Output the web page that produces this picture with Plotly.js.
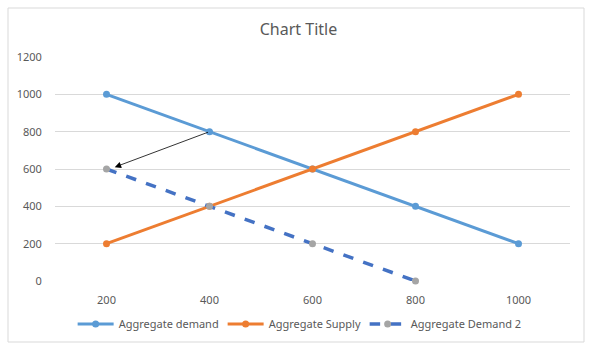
<!DOCTYPE html>
<html>
<head>
<meta charset="utf-8">
<script src="https://cdn.plot.ly/plotly-3.0.1.min.js"></script>
<style>html,body{margin:0;padding:0;background:#fff;}</style>
</head>
<body>
<div id="chart" style="width:597px;height:351px;"></div>
<script>
var categories = ["200", "400", "600", "800", "1000"];
var aggDemand = [1000, 800, 600, 400, 200];
var aggSupply = [200, 400, 600, 800, 1000];
var aggDemand2Cats = ["200", "400", "600", "800"];
var aggDemand2 = [600, 400, 200, 0];
var yTicks = [0, 200, 400, 600, 800, 1000, 1200];

var font = "Noto Sans, Open Sans, sans-serif";
var traces = [
  {x: categories, y: aggDemand, name: "Aggregate demand", type: "scatter", mode: "lines+markers", cliponaxis: false,
   legendwidth: 99,
   line: {color: "#5B9BD5", width: 3}, marker: {color: "#5B9BD5", size: 7}},
  {x: categories, y: aggSupply, name: "Aggregate Supply", type: "scatter", mode: "lines+markers", cliponaxis: false,
   legendwidth: 91,
   line: {color: "#ED7D31", width: 3}, marker: {color: "#ED7D31", size: 7}},
  {x: aggDemand2Cats, y: aggDemand2, name: "Aggregate Demand 2", type: "scatter", mode: "lines+markers", cliponaxis: false,
   legendwidth: 112,
   line: {color: "#4472C4", width: 3.5, dash: "dash"}, marker: {color: "#A5A5A5", size: 7}}
];
var layout = {
  width: 597, height: 351,
  margin: {l: 55, r: 27, t: 57, b: 70},
  paper_bgcolor: "#ffffff", plot_bgcolor: "#ffffff",
  font: {family: font, color: "#595959", size: 11},
  title: {text: "Chart Title", font: {family: font, size: 16, color: "#595959"}, x: 0.5, xanchor: "center", y: 0.915, yanchor: "middle"},
  xaxis: {type: "category", range: [-0.5, 4.5], showgrid: false, zeroline: false, showline: false,
          ticks: "outside", ticklen: 9, tickcolor: "rgba(0,0,0,0)",
          tickfont: {size: 11, color: "#595959"}, fixedrange: true},
  yaxis: {range: [0, 1200], tickvals: yTicks, showgrid: true, gridcolor: "#D9D9D9", gridwidth: 1,
          zeroline: false, showline: false, ticks: "outside", ticklen: 10, tickcolor: "rgba(0,0,0,0)",
          tickfont: {size: 11, color: "#595959"}, fixedrange: true},
  legend: {orientation: "h", x: 0.476, xanchor: "center", y: -0.192, yanchor: "middle",
           itemwidth: 36,
           font: {size: 11, color: "#595959"}, traceorder: "normal"},
  shapes: [{type: "rect", xref: "paper", yref: "paper",
            x0: (8 - 55) / 515, x1: (584 - 55) / 515, y0: (281 - 342) / 224, y1: (281 - 8) / 224,
            line: {color: "#D9D9D9", width: 1}, fillcolor: "rgba(0,0,0,0)", layer: "below"}],
  annotations: [{x: 0.08, y: 610, ax: 1, ay: 800, xref: "x", yref: "y", axref: "x", ayref: "y",
                 text: "", showarrow: true, arrowhead: 2, arrowsize: 1.6, arrowwidth: 0.8, arrowcolor: "#000000"}],
  showlegend: true
};
Plotly.newPlot("chart", traces, layout, {displayModeBar: false, staticPlot: true});
</script>
</body>
</html>
